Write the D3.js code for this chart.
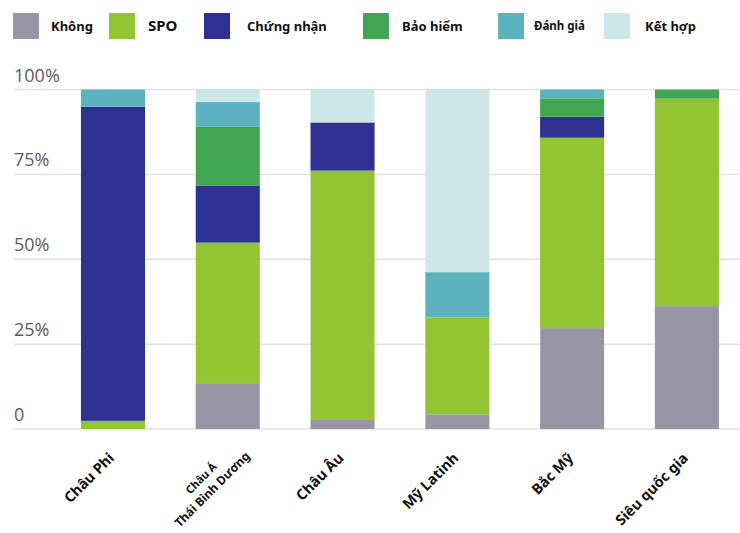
<!DOCTYPE html>
<html lang="vi">
<head>
<meta charset="UTF-8">
<title>Stacked 100% bar</title>
<script src="https://cdnjs.cloudflare.com/ajax/libs/d3/7.8.5/d3.min.js"></script>
<style>
    body { margin: 0; background: #fff; }
    .grid line { stroke: #e2e1e8; stroke-width: 1.5; }
    .ytick { font-family: "Open Sans", sans-serif; font-size: 18px; fill: #5c5c5c; }
    .xlab { font-family: "Noto Sans", sans-serif; font-weight: bold; font-size: 14.5px; fill: #111; }
    .legend text { font-family: "Noto Sans", sans-serif; font-weight: bold; fill: #111; }
</style>
</head>
<body>
<div id="chart"></div>
<script>
// regions (x axis), second line where the label wraps
const regions = ["Châu Phi", "Châu Á|Thái Bình Dương", "Châu Âu", "Mỹ Latinh", "Bắc Mỹ", "Siêu quốc gia"];

// series, percent of each region
const seriesNames = ["Không", "SPO", "Chứng nhận", "Bảo hiểm", "Đánh giá", "Kết hợp"];
const khong     = [0,    13.5,  2.9,  4.3, 29.7, 36.2];
const spo       = [2.4,  41.4, 73.2, 28.6, 56.1, 61.1];
const chungNhan = [92.5, 16.7, 14.2,  0,    6.2,  0];
const baoHiem   = [0,    17.4,  0,    0,    5.4,  2.7];
const danhGia   = [5.1,   7.3,  0,   13.3,  2.6,  0];
const ketHop    = [0,     3.7,  9.7, 53.8,  0,    0];

const yTicks = [0, 25, 50, 75, 100];
const yTickLabels = ["0", "25%", "50%", "75%", "100%"];

const colors = ["#9896a4", "#93c431", "#2e3192", "#41a651", "#5cb3bf", "#cde6e7"];

const W = 740, H = 533;
const svg = d3.select("#chart").append("svg")
    .attr("width", W).attr("height", H);

// build table for stack
const seriesValues = [khong, spo, chungNhan, baoHiem, danhGia, ketHop];
const table = regions.map((r, i) => {
    const row = {region: r};
    seriesNames.forEach((s, j) => row[s] = seriesValues[j][i]);
    return row;
});
const stacked = d3.stack().keys(seriesNames)(table);

const x = d3.scaleBand()
    .domain(regions)
    .range([55.6, 744.3])
    .paddingInner(0.442)
    .paddingOuter(0.221);

const y = d3.scaleLinear()
    .domain([0, 100])
    .range([429, 89.5]);

// grid lines
svg.append("g").attr("class", "grid")
    .selectAll("line")
    .data(yTicks)
    .join("line")
    .attr("x1", 14).attr("x2", W)
    .attr("y1", d => y(d)).attr("y2", d => y(d));

svg.append("g")
    .selectAll("text")
    .data(yTicks)
    .join("text")
    .attr("class", "ytick")
    .attr("x", 14)
    .attr("y", d => y(d) - 8)
    .text((d, i) => yTickLabels[i]);

// bars
svg.append("g")
    .selectAll("g")
    .data(stacked)
    .join("g")
    .attr("fill", (d, i) => colors[i])
    .selectAll("rect")
    .data(d => d.filter(p => p[1] - p[0] > 0))
    .join("rect")
    .attr("x", d => x(d.data.region))
    .attr("width", x.bandwidth())
    .attr("y", d => y(d[1]))
    .attr("height", d => y(d[0]) - y(d[1]));

// x labels, rotated
regions.forEach(r => {
    const cx = x(r) + x.bandwidth() / 2;
    const parts = r.split("|");
    if (parts.length === 1) {
        svg.append("text")
            .attr("class", "xlab")
            .attr("transform", `translate(${cx + 2},${459}) rotate(-45)`)
            .attr("text-anchor", "end")
            .text(r);
    } else {
        const g = svg.append("g")
            .attr("transform", `translate(${cx - 19},${486}) rotate(-45)`);
        g.append("text")
            .attr("class", "xlab")
            .attr("text-anchor", "middle")
            .attr("y", -7)
            .style("font-size", "11px")
            .text(parts[0]);
        g.append("text")
            .attr("class", "xlab")
            .attr("text-anchor", "middle")
            .attr("y", 9)
            .style("font-size", "12px")
            .text(parts[1]);
    }
});

// legend
const legendX = [13, 109, 204, 363, 498, 604];
const legendTextX = [51, 148, 247, 402, 534, 645];
const legendSize = [13, 15, 13, 13, 11.5, 13];
const legend = svg.append("g").attr("class", "legend");
seriesNames.forEach((s, i) => {
    legend.append("rect")
        .attr("x", legendX[i]).attr("y", 13)
        .attr("width", 26).attr("height", 26)
        .attr("fill", colors[i]);
    legend.append("text")
        .attr("x", legendTextX[i]).attr("y", 26)
        .attr("dy", "0.35em")
        .style("font-size", legendSize[i] + "px")
        .text(s);
});
</script>
</body>
</html>
